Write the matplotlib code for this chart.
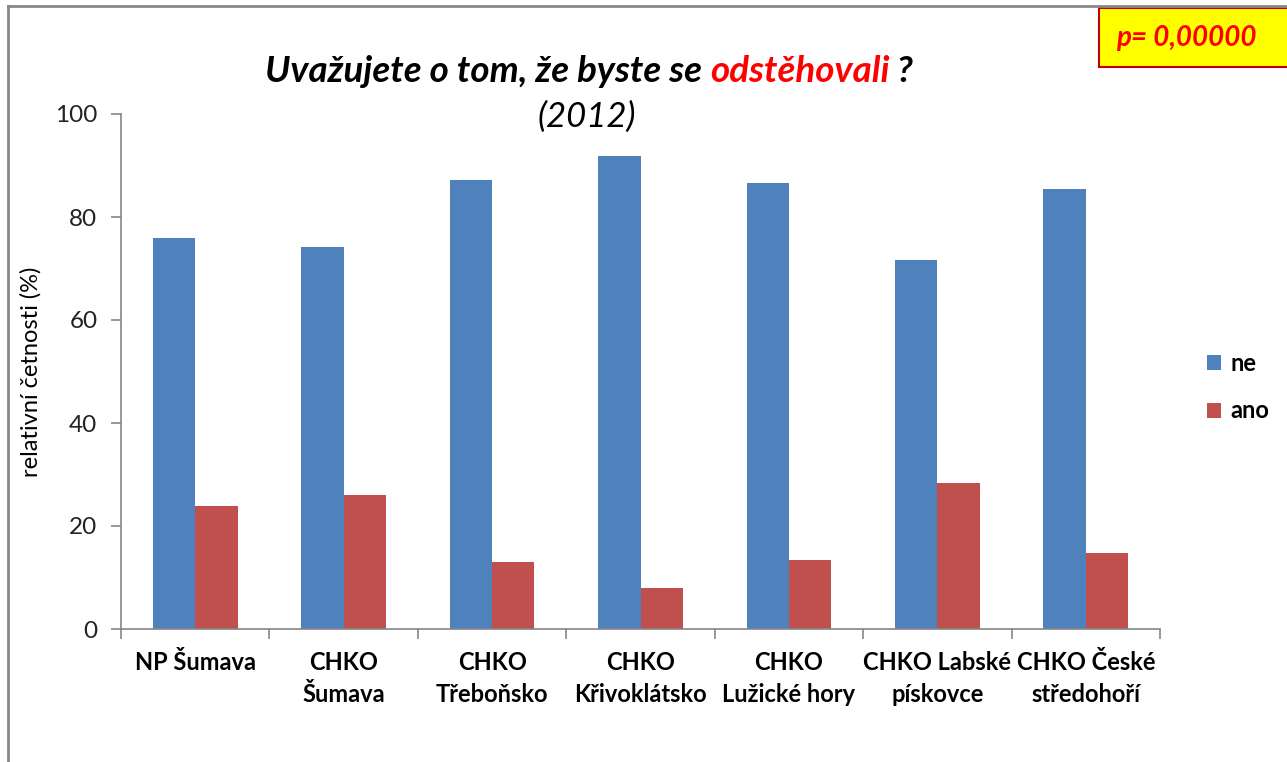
import matplotlib
matplotlib.use("Agg")
import matplotlib.pyplot as plt
import numpy as np
from matplotlib.patches import Rectangle
from matplotlib.lines import Line2D

categories = ["NP Šumava", "CHKO\nŠumava", "CHKO\nTřeboňsko", "CHKO\nKřivoklátsko",
              "CHKO\nLužické hory", "CHKO Labské\npískovce", "CHKO České\nstředohoří"]
ne = [75.9, 74.2, 87.2, 91.8, 86.6, 71.7, 85.4]
ano = [23.9, 26.0, 13.0, 8.0, 13.4, 28.3, 14.8]
series_names = ["ne", "ano"]
yticks = [0, 20, 40, 60, 80, 100]

plt.rcParams['font.family'] = ['Lato', 'DejaVu Sans']

W, H = 1287, 762
fig = plt.figure(figsize=(W / 100, H / 100), dpi=100)
ax = fig.add_axes([121 / W, 1 - 629 / H, (1160 - 121) / W, (629 - 114) / H])

x = np.arange(len(categories))
bw = 0.285
blue = "#4F81BD"
red = "#C0504D"
ax.bar(x - bw / 2, ne, bw, color=blue, label=series_names[0])
ax.bar(x + bw / 2, ano, bw, color=red, label=series_names[1])

ax.set_xlim(-0.5, len(categories) - 0.5)
ax.set_ylim(0, 100)
ax.set_yticks(yticks)
ax.set_yticklabels([str(v) for v in yticks], fontsize=17.5, color="#222222")
ax.set_xticks(x)
ax.set_xticklabels(categories, fontsize=17, fontweight="bold", linespacing=1.45)
ax.tick_params(axis="x", length=0, pad=16)
ax.set_xticks(np.arange(-0.5, len(categories)), minor=True)
ax.tick_params(axis="x", which="minor", length=7, color="#868686", width=1.2)
ax.tick_params(axis="y", length=7, color="#868686", width=1.2, pad=10)
for s in ["top", "right"]:
    ax.spines[s].set_visible(False)
for s in ["left", "bottom"]:
    ax.spines[s].set_color("#868686")
    ax.spines[s].set_linewidth(1.2)
ax.set_ylabel("relativní četnosti (%)", fontsize=17)
ax.yaxis.set_label_coords(-(121 - 42) / (1160 - 121), 0.5)

# legend
leg = ax.legend(loc="center left", bbox_to_anchor=(1.025, 0.47), frameon=False,
                prop={"weight": "bold", "size": 17}, handlelength=0.6, handleheight=0.6,
                labelspacing=1.05, handletextpad=0.4)

# title with colored word
fig.canvas.draw()
r = fig.canvas.get_renderer()
parts = [("Uvažujete o tom, že byste se ", "black"), ("odstěhovali", "#FF0000"), (" ?", "black")]
tprops = dict(fontsize=26.5, fontweight="bold", style="italic")
texts = [fig.text(0, 0, p, **tprops) for p, c in parts]
widths = [t.get_window_extent(r).width for t in texts]
for t in texts:
    t.remove()
total = sum(widths)
xc = 589
xs = xc - total / 2
for (p, c), w in zip(parts, widths):
    fig.text(xs / W, 1 - 72 / H, p, color=c, va="center", ha="left", **tprops)
    xs += w
fig.text(587 / W, 1 - 117 / H, "(2012)", fontsize=25, style="italic", ha="center", va="center")

# p-value box
fig.patches.append(Rectangle((1099 / W, 1 - 67 / H), (1300 - 1099) / W, 59 / H,
                             transform=fig.transFigure, facecolor="#FFFF00",
                             edgecolor="#C00000", linewidth=1.5))
fig.text(1186 / W, 1 - 38 / H, "p= 0,00000", fontsize=20, fontweight="bold",
         style="italic", color="#FF0000", ha="center", va="center")

# chart frame lines
fig.add_artist(Line2D([8 / W, 8 / W], [0, 1 - 6 / H], transform=fig.transFigure,
                      color="#888888", lw=2))
fig.add_artist(Line2D([8 / W, 1], [1 - 6 / H, 1 - 6 / H], transform=fig.transFigure,
                      color="#888888", lw=2))

fig.savefig("out.png", dpi=100)
